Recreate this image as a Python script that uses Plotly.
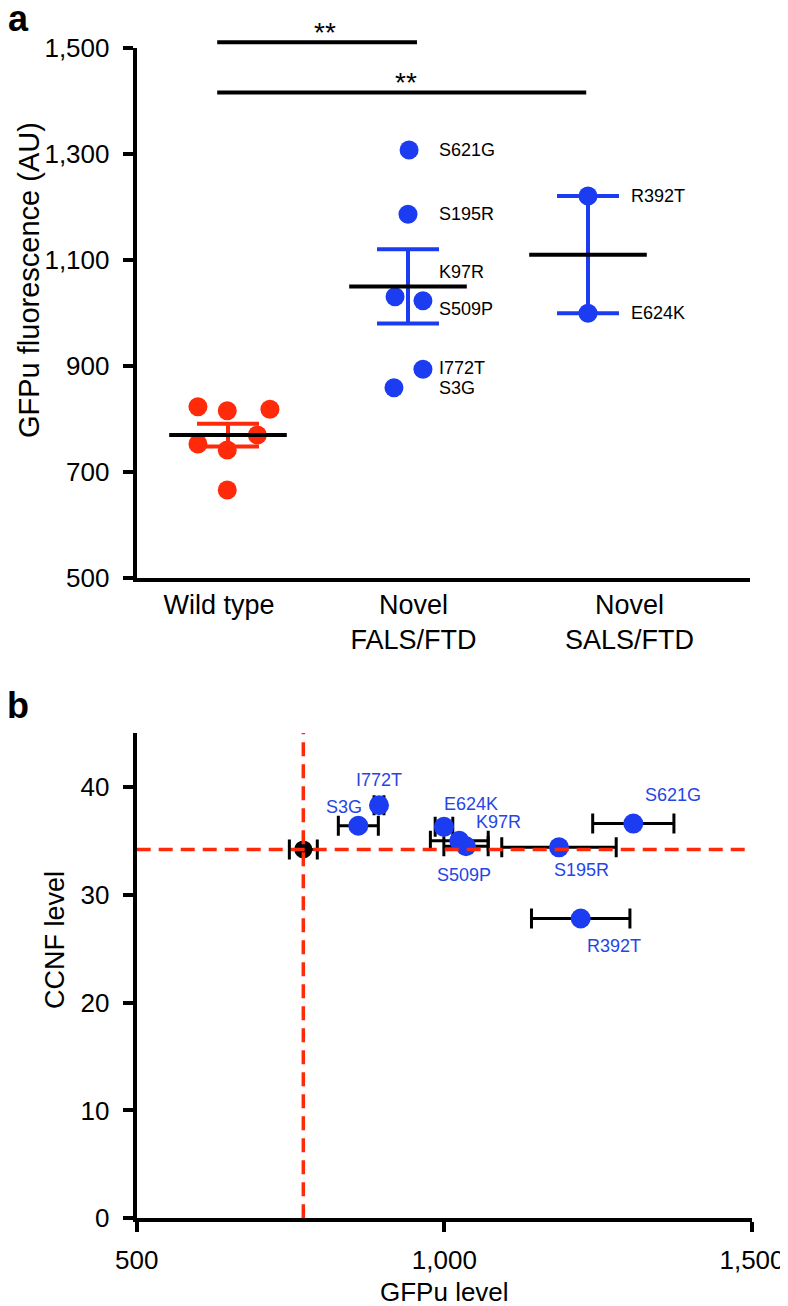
import numpy as np
import plotly.graph_objects as go

FONT = "Liberation Sans, Arial, Helvetica, sans-serif"
RED = "#FF2A0A"
BLUE = "#1C3CF2"
LABEL_BLUE = "#2645E6"

# ---- panel a : GFPu fluorescence per group ----
categories = ["Wild type", "Novel<br>FALS/FTD", "Novel<br>SALS/FTD"]
cat_pos = [1, 2, 3]
cat_label_pos = [0.95, 2.03, 3.23]

wt_gfpu = [822.6, 815.0, 817.7, 769.0, 752.0, 740.8, 665.3]
fals_names = ["S621G", "S195R", "K97R", "S509P", "I772T", "S3G"]
fals_gfpu = [1307.4, 1186.0, 1030.3, 1022.8, 893.2, 858.5]
sals_names = ["R392T", "E624K"]
sals_gfpu = [1220.5, 999.0]

# horizontal spread of the dots inside each column (x units)
wt_jitter = [-0.167, -0.004, 0.233, 0.163, -0.167, -0.004, -0.004]
fals_jitter = [0.006, 0.0, -0.072, 0.083, 0.083, -0.078]
sals_jitter = [0.0, 0.0]

# where the mutation names sit in panel a
fals_label_x = 2.16
fals_label_y = [1307, 1186, 1077, 1007, 896, 858]
sals_label_x = 3.23
sals_label_y = [1220, 999]

# significance bars
sig_x0 = [0.94, 0.94]
sig_x1 = [2.05, 2.99]
sig_y = [1511, 1416]
sig_star_x = [1.54, 1.99]
sig_star_y = [1530, 1435]
sig_text = ["**", "**"]

# ---- panel b : CCNF level vs GFPu level ----
b_names = ["S3G", "I772T", "E624K", "K97R", "S509P", "S195R", "S621G", "R392T"]
b_gfpu = [860.2, 893.8, 999.4, 1035.2, 1024.3, 1186.3, 1307.1, 1221.6]
b_gfpu_sem = [32.5, 8.0, 14.3, 36.0, 47.0, 93.0, 66.0, 80.0]
b_ccnf = [36.4, 38.3, 36.3, 34.5, 35.0, 34.4, 36.6, 27.8]
b_label_shift = [(-14, 19), (0, 25), (27, 23), (32, 24), (5, -34), (23, -23), (40, 29), (33, -28)]
wt_b_gfpu = 770.8
wt_b_sem = 22.7
wt_b_ccnf = 34.2

# the page body adds an 8px margin, so the figure is laid out in page pixels minus that
W, H = 788, 1306
OFF = 8
FW, FH = W - OFF, H - OFF


def px(x):
    return (x - OFF) / FW


def py(y):
    return 1 - (y - OFF) / FH


A_X = [px(136.7), px(750)]
A_Y = [py(577.5), py(48)]
B_X = [px(136.7), px(752)]
B_Y = [py(1218.3), py(733)]
A_YRANGE = [500, 1500]
# extra invisible axis over panel a so the bars can go above 1,500
A3_TOP = 1.0
A3_MAX = A_YRANGE[0] + (A_YRANGE[1] - A_YRANGE[0]) * (A3_TOP - A_Y[0]) / (A_Y[1] - A_Y[0])

fig = go.Figure()


def sem(v):
    v = np.asarray(v, dtype=float)
    return v.std(ddof=1) / np.sqrt(len(v))


groups = [
    (wt_gfpu, wt_jitter, RED),
    (fals_gfpu, fals_jitter, BLUE),
    (sals_gfpu, sals_jitter, BLUE),
]

# error bars (mean +- SEM) first, then dots, then the black mean line
for pos, (vals, jit, col) in zip(cat_pos, groups):
    fig.add_trace(go.Scatter(
        x=[pos], y=[float(np.mean(vals))], mode="markers", marker=dict(size=1, opacity=0),
        error_y=dict(type="data", array=[sem(vals)], color=col, thickness=4, width=31),
        xaxis="x", yaxis="y", showlegend=False, hoverinfo="skip"))
for pos, (vals, jit, col) in zip(cat_pos, groups):
    fig.add_trace(go.Scatter(
        x=[pos + j for j in jit], y=vals, mode="markers",
        marker=dict(size=19, color=col), xaxis="x", yaxis="y", showlegend=False))
for pos, (vals, jit, col) in zip(cat_pos, groups):
    # line-ew symbols are drawn 1.4x the marker size -> ~118 px wide
    fig.add_trace(go.Scatter(
        x=[pos], y=[float(np.mean(vals))], mode="markers",
        marker=dict(symbol="line-ew", size=84, line=dict(color="black", width=4)),
        xaxis="x", yaxis="y", showlegend=False))

# significance bars
for x0, x1, y in zip(sig_x0, sig_x1, sig_y):
    fig.add_trace(go.Scatter(
        x=[x0, x1], y=[y, y], mode="lines", line=dict(color="black", width=4),
        xaxis="x", yaxis="y3", showlegend=False, hoverinfo="skip"))

ann = []
for x, y, t in zip(sig_star_x, sig_star_y, sig_text):
    ann.append(dict(x=x, y=y, xref="x", yref="y3", text=t, showarrow=False,
                    xanchor="center", yanchor="middle",
                    font=dict(size=28, color="black", family=FONT)))
for name, y in zip(fals_names, fals_label_y):
    ann.append(dict(x=fals_label_x, y=y, xref="x", yref="y", text=name, showarrow=False,
                    xanchor="left", yanchor="middle",
                    font=dict(size=18, color="black", family=FONT)))
for name, y in zip(sals_names, sals_label_y):
    ann.append(dict(x=sals_label_x, y=y, xref="x", yref="y", text=name, showarrow=False,
                    xanchor="left", yanchor="middle",
                    font=dict(size=18, color="black", family=FONT)))

# ---- panel b traces ----
fig.add_trace(go.Scatter(
    x=b_gfpu, y=b_ccnf, mode="markers",
    marker=dict(size=20, color=BLUE),
    error_x=dict(type="data", array=b_gfpu_sem, color="black", thickness=3, width=10),
    xaxis="x2", yaxis="y2", showlegend=False, text=b_names))
fig.add_trace(go.Scatter(
    x=[wt_b_gfpu], y=[wt_b_ccnf], mode="markers",
    marker=dict(size=18, color="black"),
    error_x=dict(type="data", array=[wt_b_sem], color="black", thickness=3, width=10),
    xaxis="x2", yaxis="y2", showlegend=False))
# reference dashed lines through the wild-type value
fig.add_trace(go.Scatter(
    x=[wt_b_gfpu, wt_b_gfpu], y=[0, 45], mode="lines",
    line=dict(color=RED, width=3.5, dash="14px,8px"),
    xaxis="x2", yaxis="y2", showlegend=False, hoverinfo="skip"))
fig.add_trace(go.Scatter(
    x=[500, 1500], y=[wt_b_ccnf, wt_b_ccnf], mode="lines",
    line=dict(color=RED, width=3.5, dash="14px,8px"),
    xaxis="x2", yaxis="y2", showlegend=False, hoverinfo="skip"))

for name, x, y, (dx, dy) in zip(b_names, b_gfpu, b_ccnf, b_label_shift):
    ann.append(dict(x=x, y=y, xref="x2", yref="y2", text=name, showarrow=False,
                    xanchor="center", yanchor="middle", xshift=dx, yshift=dy,
                    font=dict(size=18, color=LABEL_BLUE, family=FONT)))

# titles and panel letters
ann += [
    dict(x=px(29), y=py(280), text="GFPu fluorescence (AU)", textangle=-90,
         font=dict(size=29, color="black", family=FONT)),
    dict(x=px(55), y=py(940), text="CCNF level", textangle=-90,
         font=dict(size=27, color="black", family=FONT)),
    dict(x=px(444), y=py(1292), text="GFPu level",
         font=dict(size=26, color="black", family=FONT)),
    dict(x=px(18), y=py(19), text="<b>a</b>",
         font=dict(size=36, color="black", family=FONT)),
    dict(x=px(18), y=py(705), text="<b>b</b>",
         font=dict(size=36, color="black", family=FONT)),
]
for a in ann[-5:]:
    a.update(xref="paper", yref="paper", showarrow=False, xanchor="center", yanchor="middle")

axis_style = dict(showline=True, linecolor="black", linewidth=4, ticks="outside",
                  ticklen=10, tickwidth=4, tickcolor="black", showgrid=False,
                  zeroline=False, automargin=False,
                  tickfont=dict(size=26, color="black", family=FONT),
                  ticklabelstandoff=8)

fig.update_layout(
    template="none",
    width=FW, height=FH, autosize=False,
    margin=dict(l=0, r=0, t=0, b=0, pad=0),
    paper_bgcolor="white", plot_bgcolor="rgba(0,0,0,0)",
    font=dict(family=FONT, color="black"),
    showlegend=False,
    xaxis=dict(axis_style, domain=A_X, anchor="y", range=[0.4928, 3.9],
               tickvals=cat_label_pos, ticktext=categories, ticks="",
               ticklabelstandoff=0,
               tickfont=dict(size=27, color="black", family=FONT)),
    yaxis=dict(axis_style, domain=A_Y, anchor="x", range=A_YRANGE,
               tick0=500, dtick=200, tickformat=","),
    yaxis3=dict(domain=[A_Y[0], A3_TOP], anchor="x", range=[A_YRANGE[0], A3_MAX],
                visible=False, showgrid=False, zeroline=False, automargin=False),
    xaxis2=dict(axis_style, domain=B_X, anchor="y2", range=[500, 1500],
                tick0=500, dtick=500, tickformat=",", ticklabelstandoff=5),
    yaxis2=dict(axis_style, domain=B_Y, anchor="x2", range=[0, 45],
                tickvals=[0, 10, 20, 30, 40]),
    annotations=ann,
)

fig.write_html("out.html")
